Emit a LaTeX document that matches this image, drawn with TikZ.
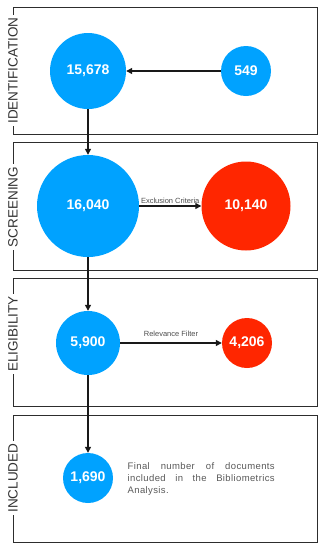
\documentclass[tikz,border=0pt]{standalone}
\usepackage{fontspec}
\setmainfont{Liberation Sans}
\newfontfamily\descfont[LetterSpace=4]{Liberation Sans}
\usetikzlibrary{arrows.meta}
\definecolor{cblue}{RGB}{0,162,255}
\definecolor{cred}{RGB}{255,38,0}
\definecolor{lineg}{RGB}{45,45,45}
\begin{document}
\begin{tikzpicture}[x=1pt,y=-1pt,
  stage/.style={draw=lineg,line width=0.9pt},
  stagelabel/.style={rotate=90,fill=white,inner sep=2.5pt,font=\fontsize{13.5}{13.5}\selectfont,text=black!80},
  num/.style={circle,inner sep=0pt,text=white,font=\bfseries\fontsize{14}{14}\selectfont},
  bluec/.style={num,fill=cblue},
  redc/.style={num,fill=cred},
  conn/.style={draw=black!90,line width=1.2pt,-{Triangle[length=6pt,width=6pt]}},
  edgelabel/.style={font=\fontsize{7.5}{8}\selectfont,text=black!70,inner sep=1pt}]
\useasboundingbox (0,0) rectangle (324,550);

% stages
\draw[stage] (13,7) rectangle (317,134);
\node[stagelabel] (l1) at (13,70.5) {IDENTIFICATION};
\draw[stage] (13,142) rectangle (317,270);
\node[stagelabel] (l2) at (13,207) {SCREENING};
\draw[stage] (13,278) rectangle (317,406);
\node[stagelabel] (l3) at (13,334) {ELIGIBILITY};
\draw[stage] (13,415) rectangle (317,542);
\node[stagelabel] (l4) at (13,478) {INCLUDED};

% circles
\node[bluec,minimum size=76pt] (n15678) at (88,71) {15,678};
\node[bluec,minimum size=50pt] (n549) at (246,71) {549};
\node[bluec,minimum size=102pt] (n16040) at (88,206) {16,040};
\node[redc,minimum size=89pt] (n10140) at (246,206) {10,140};
\node[bluec,minimum size=64pt] (n5900) at (88,343) {5,900};
\node[redc,minimum size=50pt] (n4206) at (247,343) {4,206};
\node[bluec,minimum size=50pt] (n1690) at (88,478) {1,690};

% description
\node[anchor=north west,text width=147pt,align=justify,inner sep=0pt,
  font=\descfont\fontsize{9.5}{12}\selectfont,text=black!65] (desc) at (127.5,462)
  {Final number of documents\linebreak included in the Bibliometrics\linebreak Analysis.};

% connectors
\draw[conn] (n549) -- (n15678);
\draw[conn] (n15678) -- (n16040);
\draw[conn] (n16040) -- node[edgelabel,above=1pt] (ec) {Exclusion Criteria} (n10140);
\draw[conn] (n16040) -- (n5900);
\draw[conn] (n5900) -- node[edgelabel,above=5pt] (rf) {Relevance Filter} (n4206);
\draw[conn] (n5900) -- (n1690);
\end{tikzpicture}
\end{document}
